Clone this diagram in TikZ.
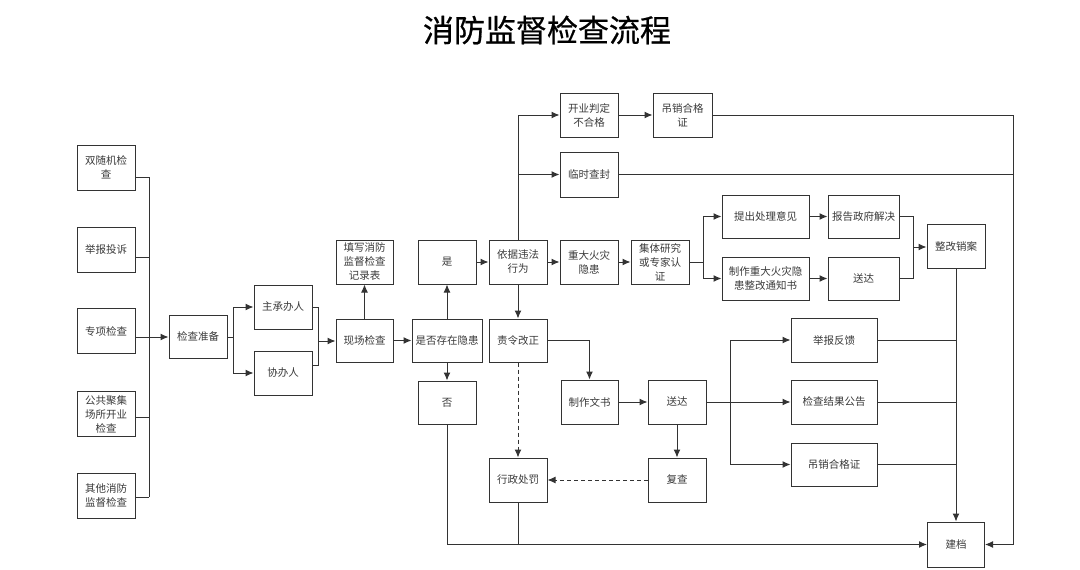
\documentclass[tikz,border=0pt]{standalone}
\usepackage{fontspec}
\newfontfamily\cjk{Noto Sans CJK SC}
\newfontfamily\cjkt[FakeBold=0.6]{Noto Sans CJK SC}
\usetikzlibrary{arrows.meta}
\definecolor{ln}{HTML}{333333}
\definecolor{tx}{HTML}{3A3A3A}
\tikzset{
  box/.style={draw=ln, line width=1pt, fill=white, align=center, inner sep=0pt,
    font=\cjk\fontsize{10.5}{14}\selectfont, text=tx},
  wire/.style={draw=ln, line width=1pt},
  arr/.style={wire, -{Latex[length=8pt,width=7pt]}},
  darr/.style={arr, dashed, dash pattern=on 4pt off 3pt},
}
\begin{document}
\begin{tikzpicture}[x=1pt,y=-1pt]
\useasboundingbox (0,0) rectangle (1080,570);
\fill[white] (0,0) rectangle (1080,570);
\node[font=\cjkt\fontsize{31}{31}\selectfont, text=black] (title) at (547,30) {消防监督检查流程};

% left column
\node[box, minimum width=58pt, minimum height=45pt] (n1) at (106,167.5) {双随机检\\查};
\node[box, minimum width=58pt, minimum height=45pt] (n2) at (106,249.5) {举报投诉};
\node[box, minimum width=58pt, minimum height=45pt] (n3) at (106,331) {专项检查};
\node[box, minimum width=58pt, minimum height=45pt] (n4) at (106,414) {公共聚集\\场所开业\\检查};
\node[box, minimum width=58pt, minimum height=45pt] (n5) at (106,495.5) {其他消防\\监督检查};

\node[box, minimum width=58pt, minimum height=43pt] (prep) at (198,336.5) {检查准备};
\node[box, minimum width=58pt, minimum height=44pt] (zhu) at (283,307) {主承办人};
\node[box, minimum width=58pt, minimum height=44pt] (xie) at (283,373) {协办人};
\node[box, minimum width=57pt, minimum height=43pt] (xc) at (364.5,340.5) {现场检查};
\node[box, minimum width=57pt, minimum height=44pt] (tx) at (364.5,262) {填写消防\\监督检查\\记录表};
\node[box, minimum width=70pt, minimum height=43pt] (yh) at (447,340.5) {是否存在隐患};
\node[box, minimum width=58pt, minimum height=44pt] (shi) at (447,262) {是};
\node[box, minimum width=58pt, minimum height=43pt] (fou) at (447,402.5) {否};
\node[box, minimum width=58pt, minimum height=44pt] (yj) at (518,262) {依据违法\\行为};
\node[box, minimum width=58pt, minimum height=43pt] (zl) at (518,340.5) {责令改正};

\node[box, minimum width=58pt, minimum height=44pt] (kyp) at (589,115) {开业判定\\不合格};
\node[box, minimum width=59pt, minimum height=44pt] (dx1) at (682.5,115) {吊销合格\\证};
\node[box, minimum width=58pt, minimum height=45pt] (lscf) at (589,174.5) {临时查封};
\node[box, minimum width=58pt, minimum height=44pt] (zdyh) at (589,262) {重大火灾\\隐患};
\node[box, minimum width=58pt, minimum height=44pt] (jt) at (660,262) {集体研究\\或专家认\\证};
\node[box, minimum width=87pt, minimum height=43pt] (tc) at (765.5,216.5) {提出处理意见};
\node[box, minimum width=71pt, minimum height=43pt] (bg) at (863.5,216.5) {报告政府解决};
\node[box, minimum width=87pt, minimum height=43pt] (zz) at (765.5,278.5) {制作重大火灾隐\\患整改通知书};
\node[box, minimum width=71pt, minimum height=43pt] (sd1) at (863.5,278.5) {送达};
\node[box, minimum width=58pt, minimum height=44pt] (zg) at (956,246) {整改销案};

\node[box, minimum width=57pt, minimum height=44pt] (zw) at (589.5,402) {制作文书};
\node[box, minimum width=58pt, minimum height=44pt] (sd2) at (677,402) {送达};
\node[box, minimum width=58pt, minimum height=44pt] (fc) at (677,480) {复查};
\node[box, minimum width=58pt, minimum height=44pt] (xz) at (518,480) {行政处罚};
\node[box, minimum width=86pt, minimum height=44pt] (jb) at (834,340) {举报反馈};
\node[box, minimum width=86pt, minimum height=44pt] (jg) at (834,402) {检查结果公告};
\node[box, minimum width=86pt, minimum height=43pt] (dx2) at (834,464.5) {吊销合格证};
\node[box, minimum width=57pt, minimum height=45pt] (jd) at (956,544.5) {建档};

% coordinates
\coordinate (bus1) at (149,177);
\coordinate (bus2) at (149,257);
\coordinate (bus3) at (149,337);
\coordinate (bus4) at (149,417);
\coordinate (bus5) at (149,497);
\coordinate (s1) at (233,337);
\coordinate (m1) at (318,341);
\coordinate (xiey) at (318,365);
\coordinate (s2) at (703,262);
\coordinate (m2) at (913,247);
\coordinate (r1) at (1013,115);
\coordinate (r2) at (1013,544.5);
\coordinate (s3) at (730,402);
\coordinate (b1) at (447,544.5);

% left bus
\draw[wire] (n1.east |- bus1) -- (bus1);
\draw[wire] (n2.east |- bus2) -- (bus2);
\draw[wire] (n3.east |- bus3) -- (bus3);
\draw[wire] (n4.east |- bus4) -- (bus4);
\draw[wire] (n5.east |- bus5) -- (bus5);
\draw[wire] (bus1) -- (bus5);
\draw[arr] (bus3) -- (prep.west |- bus3);

\draw[wire] (prep.east |- s1) -- (s1);
\draw[arr] (s1) |- (zhu.west);
\draw[arr] (s1) |- (xie.west);
\draw[wire] (zhu.east) -| (m1);
\draw[wire] (xie.east |- xiey) -- (xiey) -- (m1);
\draw[arr] (m1) -- (xc.west |- m1);

\draw[arr] (xc.north) -- (tx.south);
\draw[arr] (xc.east) -- (yh.west);
\draw[arr] (yh.north) -- (shi.south);
\draw[arr] (yh.south) -- (fou.north);
\draw[arr] (shi.east) -- (yj.west);
\draw[arr] (yj.south) -- (zl.north);
\draw[arr] (yj.east) -- (zdyh.west);
\draw[arr] (yj.north) |- (kyp.west);
\draw[arr] (yj.north) |- (lscf.west);
\draw[arr] (kyp.east) -- (dx1.west);
\draw[arr] (zdyh.east) -- (jt.west);
\draw[wire] (jt.east) -- (s2);
\draw[arr] (s2) |- (tc.west);
\draw[arr] (s2) |- (zz.west);
\draw[arr] (tc.east) -- (bg.west);
\draw[arr] (zz.east) -- (sd1.west);
\draw[wire] (bg.east) -| (m2);
\draw[wire] (sd1.east) -| (m2);
\draw[arr] (m2) -- (zg.west |- m2);
\draw[arr] (zg.south) -- (jd.north);

\draw[wire] (dx1.east) -- (r1) -- (r2);
\draw[wire] (lscf.east) -- (lscf.east -| r1);
\draw[arr] (r2) -- (jd.east);

\draw[arr] (zl.east) -| (zw.north);
\draw[arr] (zw.east) -- (sd2.west);
\draw[arr] (sd2.south) -- (fc.north);
\draw[darr] (fc.west) -- (xz.east);
\draw[darr] (zl.south) -- (xz.north);

\draw[wire] (sd2.east) -- (s3);
\draw[arr] (s3) |- (jb.west);
\draw[arr] (s3) -- (jg.west);
\draw[arr] (s3) |- (dx2.west);
\draw[wire] (jb.east) -- (jb.east -| zg.south);
\draw[wire] (jg.east) -- (jg.east -| zg.south);
\draw[wire] (dx2.east) -- (dx2.east -| zg.south);

\draw[wire] (fou.south) -- (b1);
\draw[arr] (b1) -- (jd.west);
\draw[wire] (xz.south) -- (xz.south |- b1);
\end{tikzpicture}
\end{document}
